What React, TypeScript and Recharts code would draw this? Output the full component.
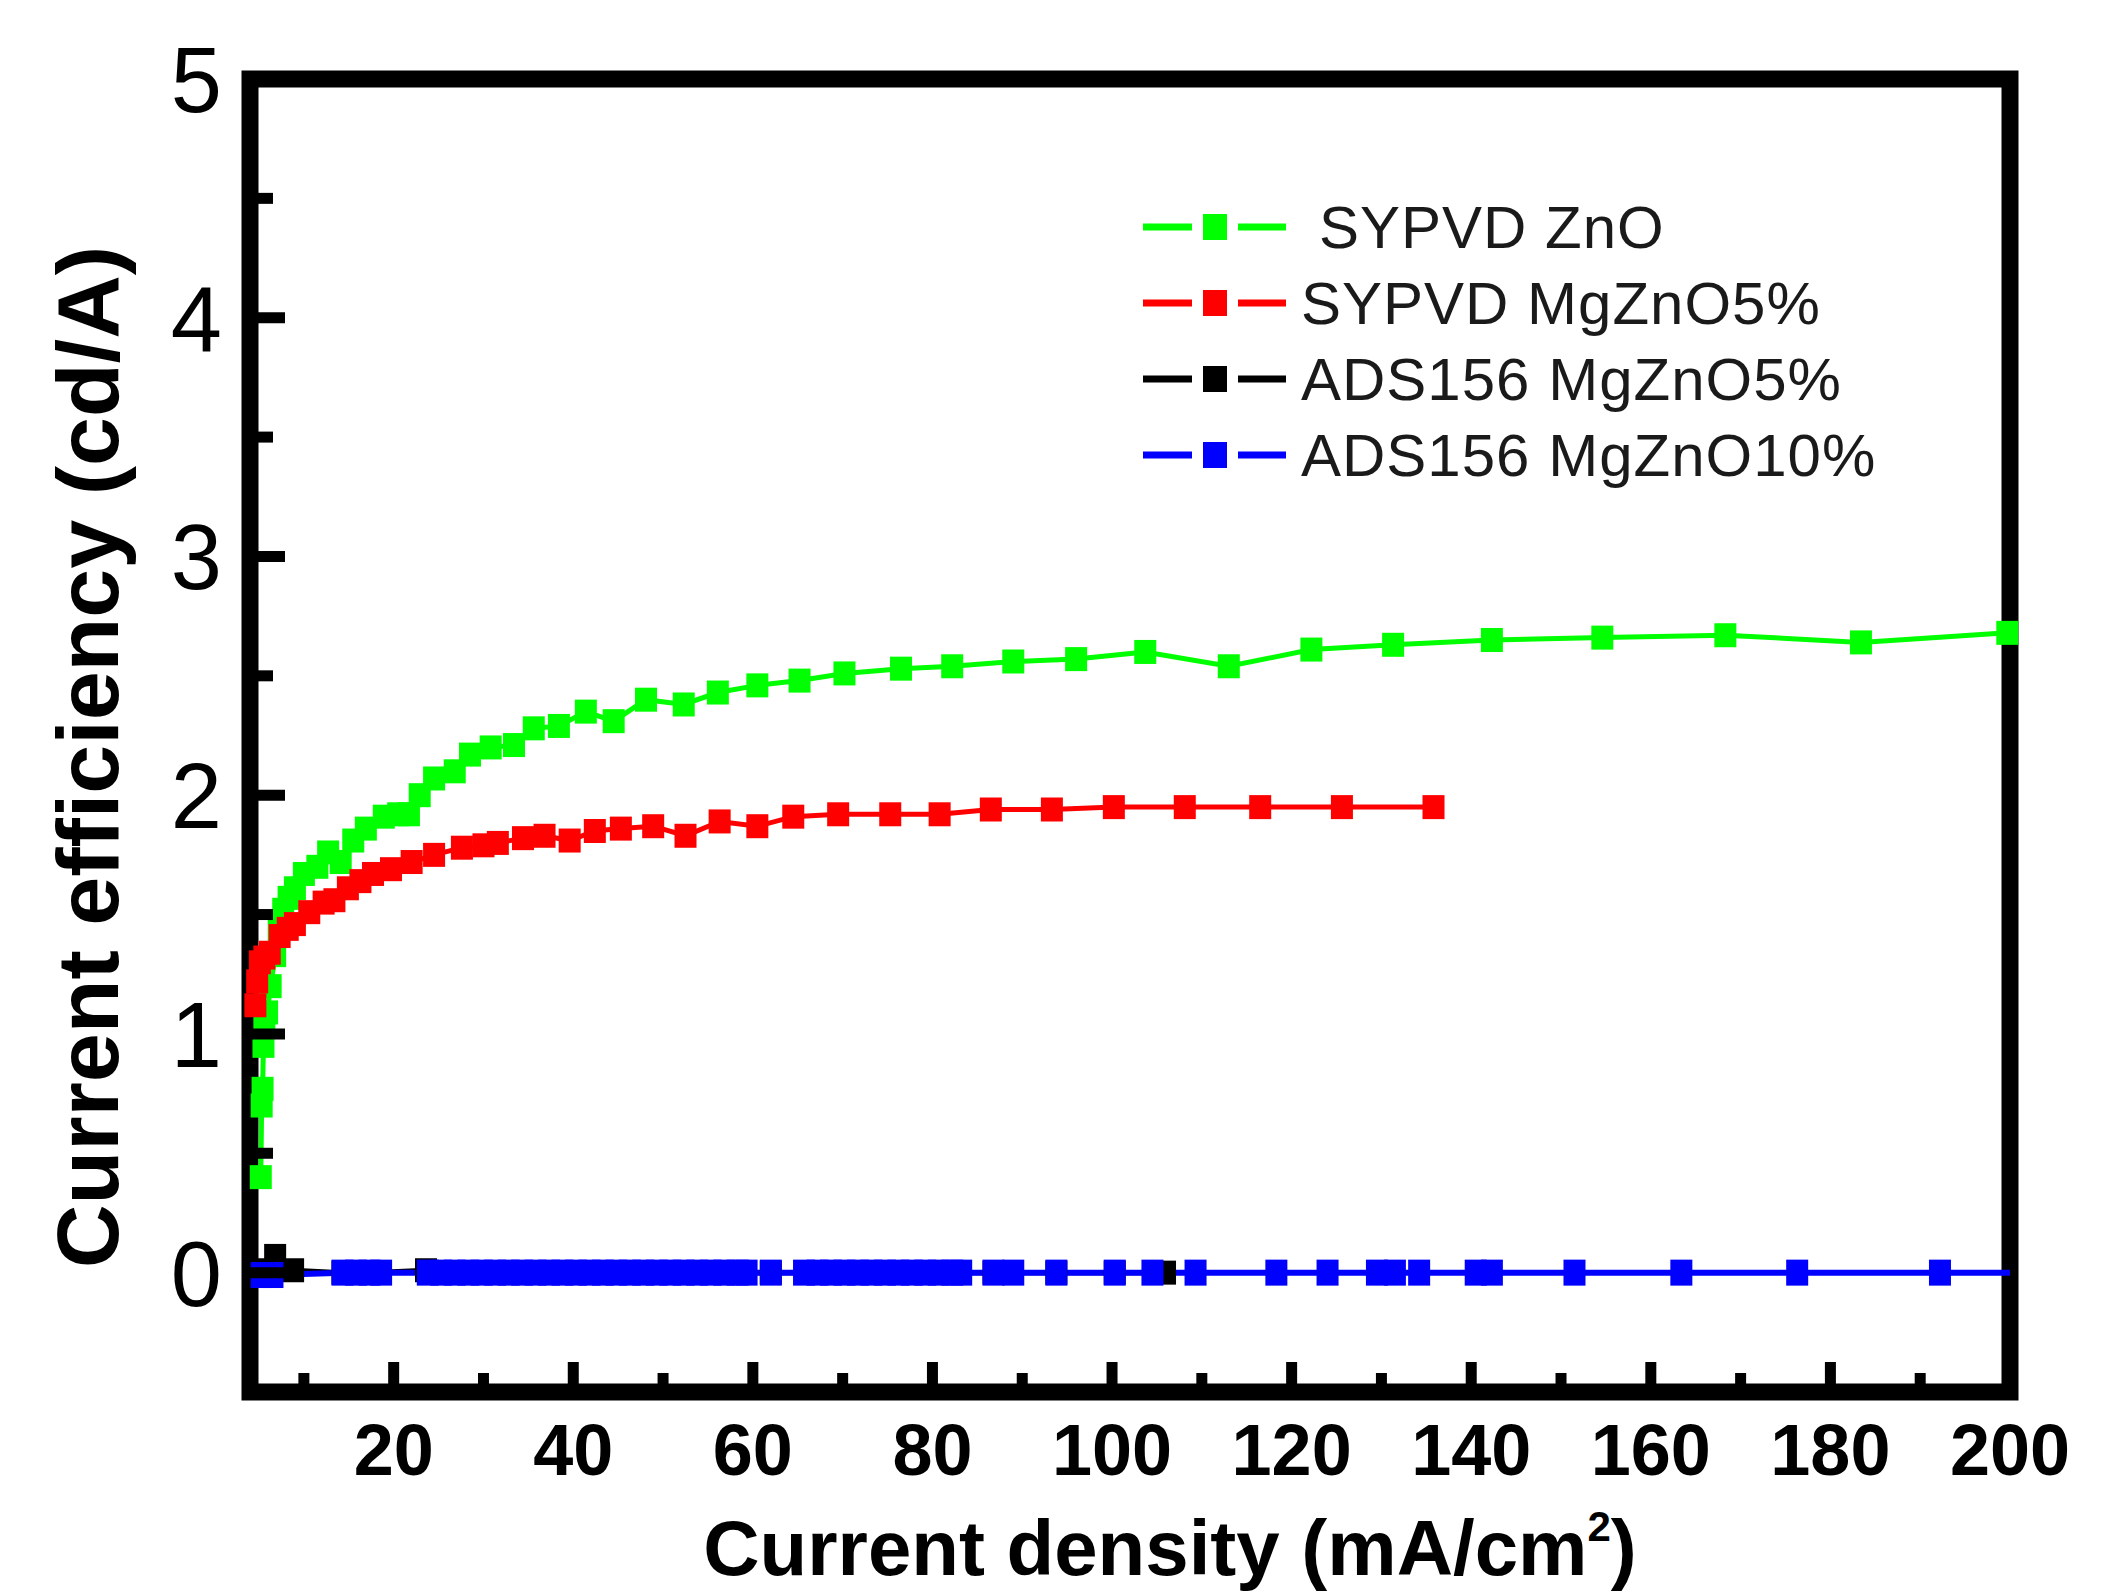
import { LineChart, Line, XAxis, YAxis, ReferenceArea, Legend } from "recharts";

const FONT = "'Liberation Sans', Arial, sans-serif";

// axis ticks
const xTicks = [10, 20, 30, 40, 50, 60, 70, 80, 90, 100, 110, 120, 130, 140, 150, 160, 170, 180, 190, 200];
const yTicks = [0, 0.5, 1, 1.5, 2, 2.5, 3, 3.5, 4, 4.5, 5];

// SYPVD ZnO
const znoX = [5.2, 5.3, 5.4, 5.5, 5.6, 5.9, 6.3, 6.8, 7.2, 7.7, 8.3, 9.0, 10.0, 11.5, 12.7, 14.1, 15.5, 16.9, 18.9, 20.5, 21.7, 22.9, 24.5, 26.8, 28.5, 30.8, 33.4, 35.6, 38.4, 41.4, 44.5, 48.1, 52.3, 56.1, 60.5, 65.2, 70.2, 76.5, 82.2, 89.0, 96.0, 103.7, 113.0, 122.2, 131.3, 142.3, 154.6, 168.3, 183.4, 199.7];
const znoY = [0.40, 0.70, 0.77, 0.95, 1.04, 1.09, 1.20, 1.33, 1.44, 1.52, 1.57, 1.61, 1.67, 1.70, 1.76, 1.72, 1.81, 1.86, 1.91, 1.92, 1.92, 2.00, 2.07, 2.10, 2.17, 2.20, 2.21, 2.28, 2.29, 2.35, 2.31, 2.40, 2.38, 2.43, 2.46, 2.48, 2.51, 2.53, 2.54, 2.56, 2.57, 2.60, 2.54, 2.61, 2.63, 2.65, 2.66, 2.67, 2.64, 2.68];

// SYPVD MgZnO5%
const sy5X = [4.6, 4.8, 5.1, 5.6, 6.2, 7.3, 8.2, 9.0, 10.6, 12.2, 13.4, 14.9, 16.3, 17.7, 19.7, 22.0, 24.5, 27.6, 30.0, 31.6, 34.4, 36.8, 39.6, 42.4, 45.3, 48.9, 52.5, 56.3, 60.5, 64.5, 69.5, 75.3, 80.8, 86.5, 93.3, 100.2, 108.1, 116.5, 125.6, 135.8];
const sy5Y = [1.12, 1.22, 1.30, 1.32, 1.34, 1.41, 1.44, 1.46, 1.51, 1.55, 1.56, 1.61, 1.64, 1.67, 1.69, 1.72, 1.75, 1.78, 1.79, 1.80, 1.82, 1.83, 1.81, 1.85, 1.86, 1.87, 1.83, 1.89, 1.87, 1.91, 1.92, 1.92, 1.92, 1.94, 1.94, 1.95, 1.95, 1.95, 1.95, 1.95];

// ADS156 MgZnO5%
const ads5X = [5.0, 6.8, 8.8, 14.3, 17.3, 23.6, 27.0, 31.0, 35.0, 40.0, 45.0, 50.0, 56.0, 62.0, 68.0, 74.7, 80.7, 86.8, 93.8, 100.3, 105.9];
const ads5Y = [0.01, 0.07, 0.01, 0.0, 0.0, 0.01, 0.0, 0.0, 0.0, 0.0, 0.0, 0.0, 0.0, 0.0, 0.0, 0.0, 0.0, 0.0, 0.0, 0.0, 0.0];

// ADS156 MgZnO10%
const ads10X = [5.3, 6.5, 14.3, 15.8, 17.3, 18.6, 23.8, 25.3, 26.8, 28.3, 29.8, 31.3, 32.8, 34.3, 35.8, 37.3, 38.8, 40.3, 41.8, 43.3, 44.8, 46.3, 47.8, 49.3, 50.8, 52.3, 53.8, 55.3, 56.8, 58.3, 59.3, 62.0, 65.7, 67.2, 68.7, 70.2, 71.7, 73.2, 74.7, 76.2, 77.7, 79.2, 80.7, 82.2, 83.2, 86.8, 89.0, 93.8, 100.3, 104.5, 109.3, 118.3, 124.0, 129.5, 131.5, 134.2, 140.5, 142.3, 151.5, 163.4, 176.3, 192.2, 200];
const ads10Y = [-0.01, -0.01, 0.0, 0.0, 0.0, 0.0, 0.0, 0.0, 0.0, 0.0, 0.0, 0.0, 0.0, 0.0, 0.0, 0.0, 0.0, 0.0, 0.0, 0.0, 0.0, 0.0, 0.0, 0.0, 0.0, 0.0, 0.0, 0.0, 0.0, 0.0, 0.0, 0.0, 0.0, 0.0, 0.0, 0.0, 0.0, 0.0, 0.0, 0.0, 0.0, 0.0, 0.0, 0.0, 0.0, 0.0, 0.0, 0.0, 0.0, 0.0, 0.0, 0.0, 0.0, 0.0, 0.0, 0.0, 0.0, 0.0, 0.0, 0.0, 0.0, 0.0, 0.0];

const toPoints = (xs: number[], ys: number[]) => xs.map((x, i) => ({ x, y: ys[i] }));

const series = [
  { name: "SYPVD ZnO", color: "#00ff00", data: toPoints(znoX, znoY), width: 5, h: 24 },
  { name: "SYPVD MgZnO5%", color: "#ff0000", data: toPoints(sy5X, sy5Y), width: 5, h: 24 },
  { name: "ADS156 MgZnO5%", color: "#000000", data: toPoints(ads5X, ads5Y), width: 5, h: 24 },
  { name: "ADS156 MgZnO10%", color: "#0000ff", data: toPoints(ads10X, ads10Y), width: 6, h: 26 },
];

const squareDot = (color: string, h: number) => (props: any) => {
  const { cx, cy, index, payload } = props;
  if (cx == null || cy == null || payload.x >= 200) return <g key={`d${index}`} />;
  return <rect key={`d${index}`} x={cx - 11} y={cy - h / 2} width={22} height={h} fill={color} />;
};

const XTick = (props: any) => {
  const { x, y, payload } = props;
  const v = payload.value;
  const major = v % 20 === 0;
  return (
    <g>
      <line x1={x} x2={x} y1={y} y2={y - (major ? 30 : 19)} stroke="#000" strokeWidth={11} />
      {major && (
        <text x={x} y={y + 83} textAnchor="middle" fontSize={72} fontWeight="bold" fontFamily={FONT} fill="#000">
          {v}
        </text>
      )}
    </g>
  );
};

const YTick = (props: any) => {
  const { x, y, payload } = props;
  const v = payload.value;
  const major = Number.isInteger(v);
  return (
    <g>
      <line x1={x} x2={x + (major ? 35 : 23)} y1={y} y2={y} stroke="#000" strokeWidth={11} />
      {major && (
        <text x={x - 28} y={y + 33} textAnchor="end" fontSize={92} fontFamily={FONT} fill="#000">
          {v}
        </text>
      )}
    </g>
  );
};

const renderLegend = () => (
  <svg width={800} height={320}>
    {series.map((s, i) => {
      const cy = 47 + i * 76;
      return (
        <g key={s.name}>
          <line x1={13} x2={62} y1={cy} y2={cy} stroke={s.color} strokeWidth={7} />
          <rect x={73} y={cy - 13} width={24} height={26} fill={s.color} />
          <line x1={108} x2={156} y1={cy} y2={cy} stroke={s.color} strokeWidth={7} />
          <text x={i === 0 ? 189 : 171} y={cy + 21} fontSize={60} letterSpacing={1} fontFamily={FONT} fill="#1a1a1a">
            {s.name}
          </text>
        </g>
      );
    })}
  </svg>
);

export default function App() {
  return (
    <div style={{ position: "absolute", left: 0, top: 0, width: 2126, height: 1594, background: "#fff" }}>
      <LineChart width={2126} height={1594} margin={{ top: 79, right: 116, bottom: 102, left: 100 }}>
        <XAxis
          type="number"
          dataKey="x"
          domain={[4, 200]}
          ticks={xTicks}
          interval={0}
          height={100}
          tickSize={0}
          tickMargin={0}
          axisLine={false}
          tickLine={false}
          tick={XTick}
          label={{
            content: () => (
              <text x={1170} y={1575} textAnchor="middle" fontSize={78} fontWeight="bold" fontFamily={FONT} fill="#000">
                Current density (mA/cm
                <tspan dy={-34} fontSize={42}>2</tspan>
                <tspan dy={34}>)</tspan>
              </text>
            ),
          }}
        />
        <YAxis
          type="number"
          domain={[-0.5, 5]}
          ticks={yTicks}
          interval={0}
          width={150}
          tickSize={0}
          tickMargin={0}
          axisLine={false}
          tickLine={false}
          tick={YTick}
          label={{
            content: () => (
              <text
                x={118}
                y={757}
                transform="rotate(-90 118 757)"
                textAnchor="middle"
                fontSize={88}
                fontWeight="bold"
                fontFamily={FONT}
                fill="#000"
              >
                Current efficiency (cd/A)
              </text>
            ),
          }}
        />
        {series.map((s) => (
          <Line
            key={s.name}
            name={s.name}
            data={s.data}
            dataKey="y"
            type="linear"
            stroke={s.color}
            strokeWidth={s.width}
            dot={squareDot(s.color, s.h)}
            activeDot={false}
            isAnimationActive={false}
          />
        ))}
        <ReferenceArea x1={4} x2={200} y1={-0.5} y2={5} fill="none" stroke="#000" strokeWidth={17} ifOverflow="visible" />
        <Legend
          content={renderLegend}
          layout="vertical"
          align="center"
          verticalAlign="middle"
          wrapperStyle={{ left: 1130, top: 180, width: 800, height: 320 }}
        />
      </LineChart>
    </div>
  );
}
